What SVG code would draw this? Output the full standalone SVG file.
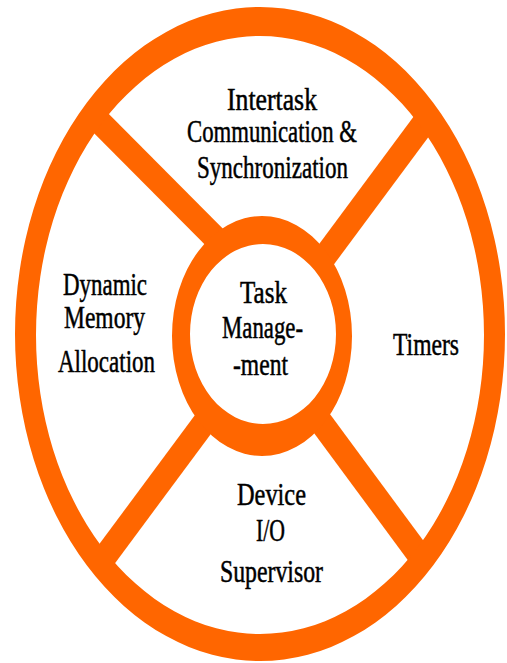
<svg xmlns="http://www.w3.org/2000/svg" width="507" height="663" viewBox="0 0 507 663">
<style>
.o{fill:#FF6600;fill-rule:evenodd}
.sp{stroke:#FF6600;stroke-width:24;stroke-linecap:butt;fill:none}
.t{font-family:"Liberation Serif","Times New Roman",serif;font-size:31px;fill:#000;stroke:#000;stroke-width:0.5;text-anchor:start}
</style>
<defs>
<clipPath id="c"><ellipse cx="260" cy="334" rx="240" ry="322"/></clipPath>
</defs>
<rect width="507" height="663" fill="#fff"/>
<g id="connectors" clip-path="url(#c)">
<line class="sp" x1="70" y1="92" x2="262" y2="285"/>
<line class="sp" x1="455" y1="81" x2="300" y2="290"/>
<line class="sp" x1="230" y1="388" x2="75" y2="597"/>
<line class="sp" x1="295" y1="387" x2="450" y2="597"/>
</g>
<g id="outer-ring">
<path class="o" d="M15,334 A245,327 0 1,0 505,334 A245,327 0 1,0 15,334 Z M36,335 A224,299 0 1,0 484,335 A224,299 0 1,0 36,335 Z"/>
</g>
<g id="task-management">
<ellipse cx="263" cy="334" rx="80" ry="100" fill="#fff"/>
<path class="o" d="M172,336 A90,120 0 1,0 352,336 A90,120 0 1,0 172,336 Z M190,334 A73,90 0 1,0 336,334 A73,90 0 1,0 190,334 Z"/>
<text class="t" x="240" y="303" textLength="47" lengthAdjust="spacingAndGlyphs">Task</text>
<text class="t" x="222" y="338" textLength="81" lengthAdjust="spacingAndGlyphs">Manage-</text>
<text class="t" x="233" y="375" textLength="55" lengthAdjust="spacingAndGlyphs">-ment</text>
</g>
<g id="intertask">
<text class="t" x="227" y="110" textLength="90" lengthAdjust="spacingAndGlyphs">Intertask</text>
<text class="t" x="187" y="142" textLength="170" lengthAdjust="spacingAndGlyphs">Communication &amp;</text>
<text class="t" x="197" y="178" textLength="151" lengthAdjust="spacingAndGlyphs">Synchronization</text>
</g>
<g id="dynamic-memory">
<text class="t" x="63" y="295" textLength="84" lengthAdjust="spacingAndGlyphs">Dynamic</text>
<text class="t" x="64" y="328" textLength="81" lengthAdjust="spacingAndGlyphs">Memory</text>
<text class="t" x="58" y="372" textLength="97" lengthAdjust="spacingAndGlyphs">Allocation</text>
</g>
<g id="timers">
<text class="t" x="393" y="355" textLength="66" lengthAdjust="spacingAndGlyphs">Timers</text>
</g>
<g id="device-io">
<text class="t" x="237" y="505" textLength="69" lengthAdjust="spacingAndGlyphs">Device</text>
<text class="t" x="256" y="541" textLength="29" lengthAdjust="spacingAndGlyphs">I/O</text>
<text class="t" x="220" y="582" textLength="103" lengthAdjust="spacingAndGlyphs">Supervisor</text>
</g>
</svg>
